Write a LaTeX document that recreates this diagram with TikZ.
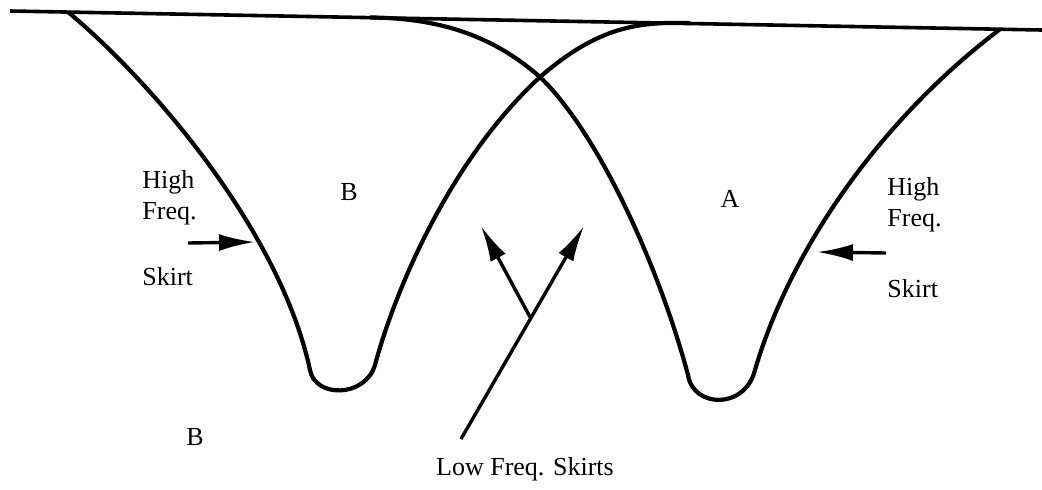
\documentclass[tikz,border=0pt]{standalone}
\usepackage{fontspec}
\setmainfont{Liberation Serif}
\usetikzlibrary{arrows.meta}

\begin{document}
\begin{tikzpicture}[x=0.5pt,y=-0.5pt,
  resp/.style={line width=2.1pt, line join=round},
  ptr/.style={line width=1.7pt, -{Latex[length=18pt,width=8.5pt]}},
  lbl/.style={font={\fontsize{13}{15}\selectfont}, anchor=base, inner sep=0pt}]
\useasboundingbox (0,0) rectangle (1042,489);
\draw[line width=1.8pt] (10,11) -- (1042,30);
\draw[resp] (68,12) .. controls (150,80) and (280,230) .. (310,370) .. controls (315,398) and (365,398) .. (375,365) .. controls (395,290) and (450,160) .. (540,77) .. controls (600,25) and (640,22) .. (690,23);
\draw[resp] (370,17.5) .. controls (450,18) and (500,42) .. (540,77) .. controls (600,135) and (660,270) .. (688,375) .. controls (693,408) and (745,410) .. (755,370) .. controls (790,250) and (880,120) .. (1000,29.2);
\node[lbl, anchor=base west] (highB) at (142,188) {High};
\node[lbl, anchor=base west] (freqB) at (142,219) {Freq.};
\node[lbl, anchor=base west] (skirtB) at (142,285) {Skirt};
\node[lbl, anchor=base west] (highA) at (887,195) {High};
\node[lbl, anchor=base west] (freqA) at (887,226) {Freq.};
\node[lbl, anchor=base west] (skirtA) at (887,297) {Skirt};
\node[lbl] (bIn) at (349,200) {B};
\node[lbl] (aIn) at (730,207) {A};
\node[lbl] (bOut) at (195,445) {B};
\node[lbl] (lowFreq) at (525,475) {Low Freq. Skirts};
\coordinate (hfB) at (188,243);
\coordinate (hfBtip) at (255,242);
\coordinate (hfA) at (886,253);
\coordinate (hfAtip) at (817,252);
\coordinate (lfRoot) at (461,439);
\coordinate (lfFork) at (530,317);
\coordinate (lfRight) at (584,226);
\coordinate (lfLeft) at (481,226);
\draw[ptr] (hfB) -- (hfBtip);
\draw[ptr] (hfA) -- (hfAtip);
\draw[ptr] (lfRoot) -- (lfRight);
\draw[ptr] (lfFork) -- (lfLeft);
\end{tikzpicture}
\end{document}
